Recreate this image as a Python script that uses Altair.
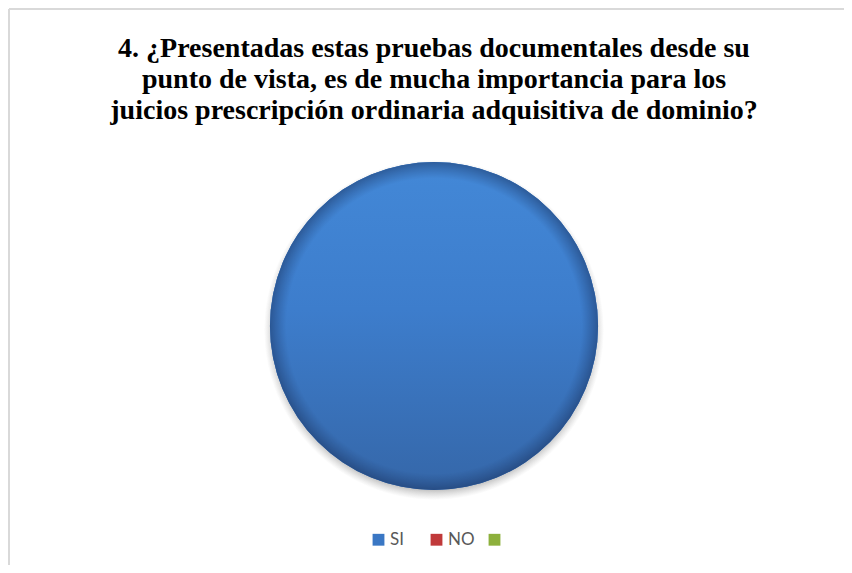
import altair as alt
import pandas as pd

# Data
categories = ["SI", "NO", " "]
values = [100, 0, 0]
colors = ["#3a77c4", "#c0393a", "#8db03c"]
title_lines = [
    "4. ¿Presentadas estas pruebas documentales desde su",
    "punto de vista, es de mucha importancia para los",
    "juicios prescripción ordinaria adquisitiva de dominio?",
]

W, H = 820, 330
PAD_L, PAD_T = 16, 153

df = pd.DataFrame({"respuesta": categories, "porcentaje": values})
frame_df = pd.DataFrame({"k": [0]})

base = alt.Chart(df).transform_filter("datum.porcentaje > 0")
theta = alt.Theta("porcentaje:Q", stack=True)

shadow = base.mark_arc(
    radius=170,
    fill=alt.RadialGradient(
        gradient="radial",
        x1=0.5, y1=0.5, r1=0,
        x2=0.5, y2=0.5, r2=0.5,
        stops=[
            alt.GradientStop(color="rgba(120,120,120,0.45)", offset=0),
            alt.GradientStop(color="rgba(120,120,120,0.45)", offset=0.94),
            alt.GradientStop(color="rgba(160,160,160,0)", offset=1),
        ],
    ),
).encode(theta=theta, y=alt.value(H / 2 + 4))

pie = base.mark_arc(radius=164).encode(
    theta=theta,
    color=alt.Color(
        "respuesta:N",
        sort=categories,
        scale=alt.Scale(domain=categories, range=colors),
        legend=alt.Legend(
            title=None,
            orient="none",
            legendX=346,
            legendY=370,
            direction="horizontal",
            symbolType="square",
            symbolSize=140,
            symbolStrokeWidth=0,
            labelFont="Lato",
            labelFontSize=17,
            labelColor="#595959",
            labelOffset=3,
            gridAlign="all",
            columnPadding=11,
        ),
    ),
)

shade = base.mark_arc(
    radius=164,
    fill=alt.LinearGradient(
        gradient="linear",
        x1=0, y1=0, x2=0, y2=1,
        stops=[
            alt.GradientStop(color="#4388d7", offset=0),
            alt.GradientStop(color="#3d7dcc", offset=0.45),
            alt.GradientStop(color="#3567a9", offset=1),
        ],
    ),
).encode(theta=theta)

bevel = base.mark_arc(
    radius=164,
    fill=alt.RadialGradient(
        gradient="radial",
        x1=0.5, y1=0.5, r1=0,
        x2=0.5, y2=0.5, r2=0.5,
        stops=[
            alt.GradientStop(color="rgba(30,60,110,0)", offset=0),
            alt.GradientStop(color="rgba(30,60,110,0)", offset=0.9),
            alt.GradientStop(color="rgba(25,50,95,0.5)", offset=1),
        ],
    ),
).encode(theta=theta)

top_line = alt.Chart(frame_df).mark_rule(color="#d9d9d9", strokeWidth=2).encode(
    x=alt.value(-PAD_L + 1), x2=alt.value(W), y=alt.value(-PAD_T + 1)
)
left_line = alt.Chart(frame_df).mark_rule(color="#d9d9d9", strokeWidth=2).encode(
    x=alt.value(-PAD_L + 1), y=alt.value(-PAD_T + 1), y2=alt.value(557 - PAD_T)
)

chart = (
    alt.layer(top_line, left_line, shadow, pie, shade, bevel)
    .properties(
        width=W,
        height=H,
        padding={"left": PAD_L, "top": PAD_T, "right": 0, "bottom": 557 - PAD_T - H},
        autosize=alt.AutoSizeParams(type="none"),
        background="white",
        title=alt.TitleParams(
            text=title_lines,
            font="Liberation Serif",
            fontSize=28,
            fontWeight="bold",
            color="#000000",
            anchor="middle",
            frame="group",
            offset=39,
            dy=156,
            lineHeight=31,
        ),
    )
    .configure_view(strokeWidth=0)
)

chart.save("out.html", embed_options={"renderer": "svg", "actions": False})
